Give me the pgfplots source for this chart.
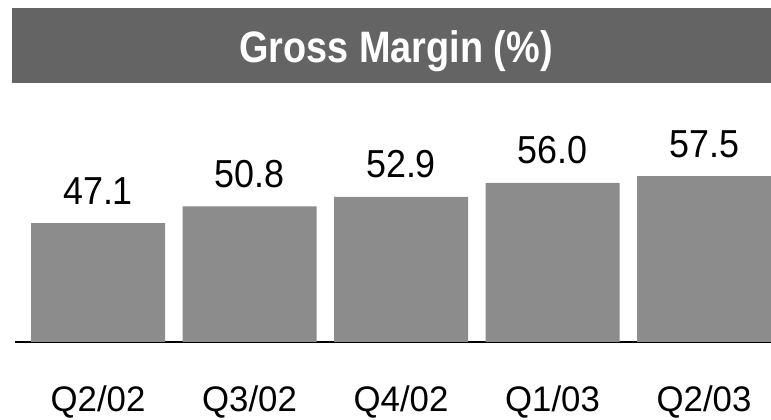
\documentclass[border=0pt]{standalone}
\usepackage{fontspec}
\setmainfont{Liberation Sans}[FakeStretch=0.92]
\newfontfamily\titlefont{Liberation Sans}[FakeStretch=0.86]
\newfontfamily\tickfont{Liberation Sans}[FakeStretch=0.98]
\usepackage{pgfplots}
\pgfplotsset{compat=1.18}
\definecolor{titlegray}{RGB}{100,100,100}
\definecolor{bargray}{RGB}{140,140,140}
\begin{document}
\begin{tikzpicture}[x=1pt,y=1pt]
\useasboundingbox (0,0) rectangle (771,420);
\fill[titlegray] (12,337) rectangle (771,412);
\node[anchor=base, text=white, inner sep=0pt, font=\titlefont\bfseries\fontsize{44}{44}\selectfont] at (396,357.5) {Gross Margin (\%)};
\begin{axis}[
  at={(15pt,78pt)}, anchor=south west,
  scale only axis, width=756pt, height=242pt,
  xmin=-0.548, xmax=4.442, ymin=20.7, ymax=74.39,
  ybar, bar width=134pt,
  axis x line*=bottom, axis y line=none,
  x axis line style={-, line width=1.6pt, black},
  xtick=data, xticklabels={Q2/02,Q3/02,Q4/02,Q1/03,Q2/03},
  major tick length=0pt,
  xticklabel style={anchor=base, inner sep=0pt, yshift=-70pt, font=\tickfont\fontsize{35.5}{36}\selectfont},
  point meta=explicit symbolic,
  nodes near coords,
  nodes near coords style={anchor=base, inner sep=0pt, yshift=19pt, font=\fontsize{39}{39}\selectfont, text=black},
]
\addplot[fill=bargray, draw=none] coordinates {
  (0,47.1) [47.1]
  (1,50.8) [50.8]
  (2,52.9) [52.9]
  (3,56.0) [56.0]
  (4,57.5) [57.5]
};
\end{axis}
\end{tikzpicture}
\end{document}
